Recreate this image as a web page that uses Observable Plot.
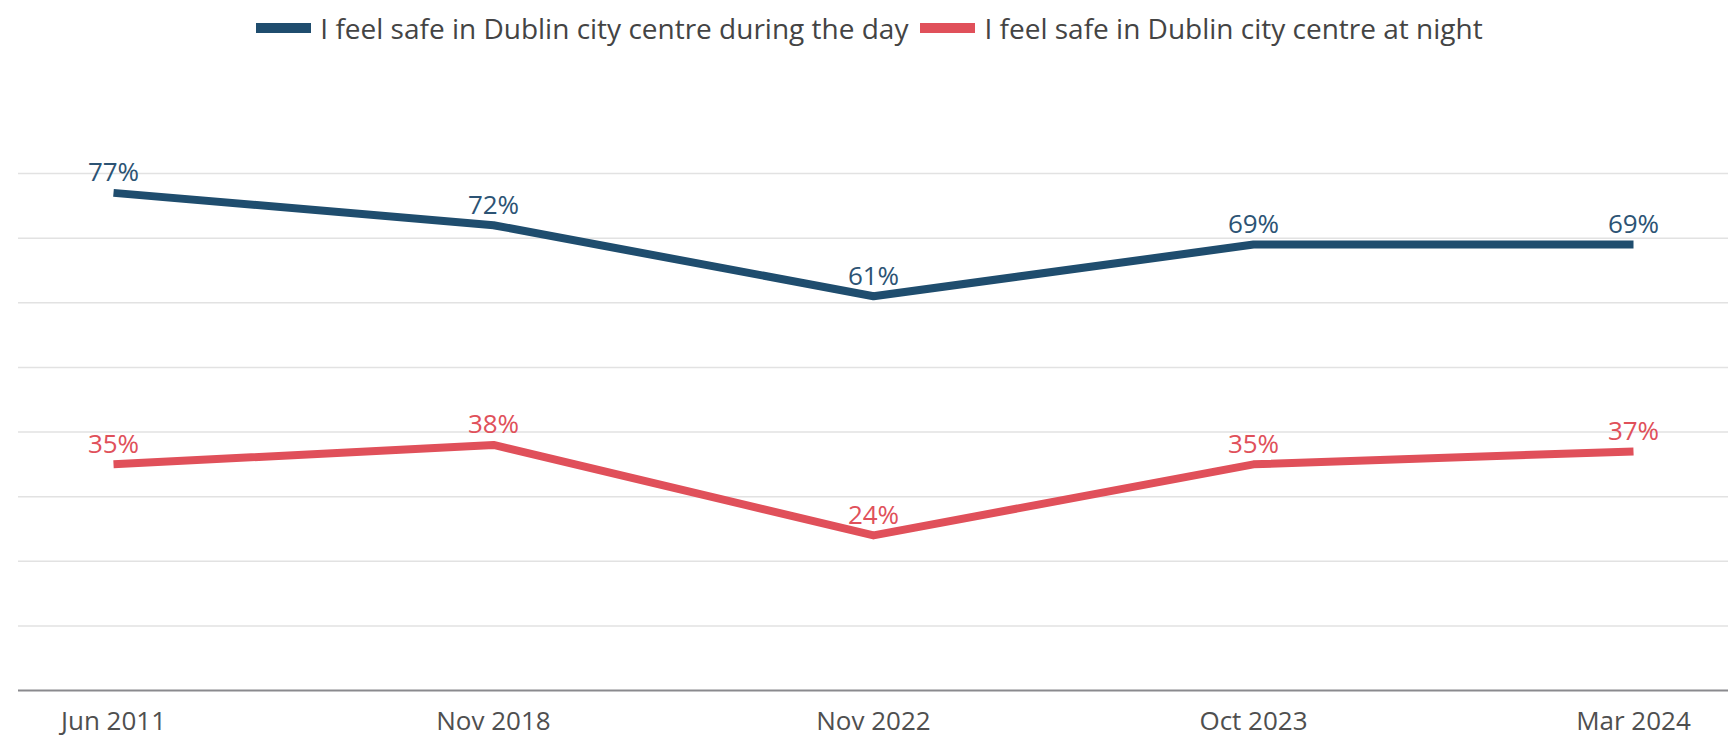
<!DOCTYPE html>
<html>
<head>
<meta charset="utf-8">
<script src="https://cdn.jsdelivr.net/npm/d3@7"></script>
<script src="https://cdn.jsdelivr.net/npm/@observablehq/plot@0.6"></script>
<style>
  html, body { margin: 0; padding: 0; background: #fff; overflow: hidden; }
  body { font-family: "Open Sans", sans-serif; width: 1731px; }
  #legend { height: 56px; display: flex; justify-content: center; align-items: center; gap: 12px; padding-left: 8px; box-sizing: border-box; }
  .item { display: flex; align-items: center; gap: 9px; font-size: 28px; color: #444; white-space: nowrap; }
  .sw { width: 55px; height: 10px; display: inline-block; }
</style>
</head>
<body>
<div id="legend"></div>
<div id="chart"></div>
<script>
const dates = ["Jun 2011", "Nov 2018", "Nov 2022", "Oct 2023", "Mar 2024"];
const dayValues = [77, 72, 61, 69, 69];
const nightValues = [35, 38, 24, 35, 37];
const seriesNames = ["I feel safe in Dublin city centre during the day", "I feel safe in Dublin city centre at night"];
const seriesColors = ["#1f4d6e", "#e0505a"];
const labelColors = ["#2c5374", "#e0505a"];
const gridValues = [10, 20, 30, 40, 50, 60, 70, 80];

const rows = [];
[dayValues, nightValues].forEach((vals, si) => {
  vals.forEach((v, i) => rows.push({date: dates[i], value: v, series: seriesNames[si]}));
});

// legend
const legend = document.getElementById("legend");
seriesNames.forEach((name, i) => {
  const it = document.createElement("div");
  it.className = "item";
  const sw = document.createElement("span");
  sw.className = "sw";
  sw.style.background = seriesColors[i];
  const tx = document.createElement("span");
  tx.textContent = name;
  it.appendChild(sw); it.appendChild(tx);
  legend.appendChild(it);
});

const chart = Plot.plot({
  width: 1731,
  height: 683,
  marginTop: 117,
  marginBottom: 49,
  marginLeft: 18,
  marginRight: 3,
  style: {fontFamily: "'Open Sans', sans-serif", fontSize: "26px", color: "#4a4a4a", background: "#fff"},
  x: {type: "point", domain: dates, padding: 0.25, label: null},
  y: {domain: [0, 80], label: null, axis: null},
  color: {domain: seriesNames, range: seriesColors},
  marks: [
    Plot.gridY(gridValues, {stroke: "#e2e2e2", strokeOpacity: 1, strokeWidth: 1.5}),
    Plot.ruleY([0], {stroke: "#8a8a8e", strokeWidth: 2}),
    Plot.axisX({tickSize: 0, tickPadding: 21, fontSize: 26, fill: "#4f4f4f", label: null}),
    Plot.line(rows, {x: "date", y: "value", z: "series", stroke: "series", strokeWidth: 8, strokeLinecap: "butt", strokeLinejoin: "round"}),
    Plot.text(rows, {x: "date", y: "value", z: "series", text: d => d.value + "%", dy: -20, fontSize: 26,
      fill: d => labelColors[seriesNames.indexOf(d.series)]})
  ]
});
document.getElementById("chart").appendChild(chart);
</script>
</body>
</html>
